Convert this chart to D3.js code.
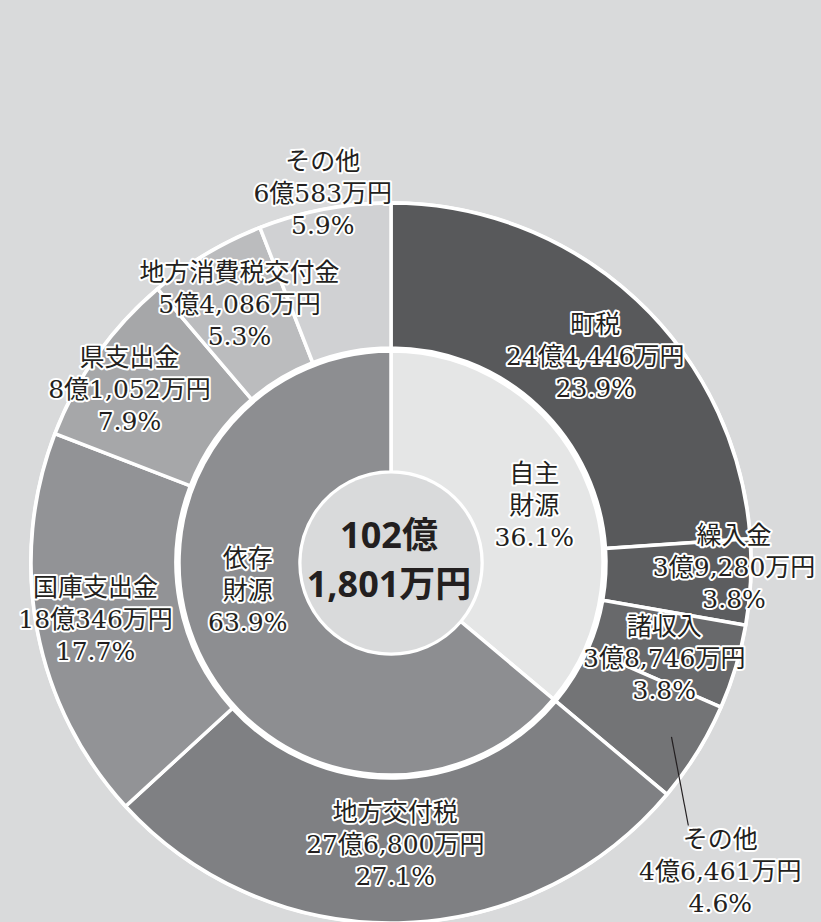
<!DOCTYPE html>
<html>
<head>
<meta charset="utf-8">
<script src="https://cdn.jsdelivr.net/npm/d3@7"></script>
<style>
  html, body { margin: 0; padding: 0; background: #d9dadb; }
  svg { display: block; }
  .lbl {
    font-family: "DejaVu Serif", "Noto Sans CJK JP", serif;
    font-size: 25px;
    fill: #231f20;
    stroke: #fff;
    stroke-width: 4px;
    stroke-linejoin: round;
    paint-order: stroke;
  }
  .total {
    font-family: "Noto Sans", "Noto Sans CJK JP", sans-serif;
    font-size: 36px;
    font-weight: bold;
    fill: #231f20;
  }
</style>
</head>
<body>
<svg width="821" height="922"></svg>
<script>
// 歳入 (万円) — outer ring, clockwise from 12 o'clock
const incomeNames = ['町税', '繰入金', '諸収入', 'その他',
    '地方交付税', '国庫支出金', '県支出金', '地方消費税交付金', 'その他'];
const incomeValues = [244446, 39280, 38746, 46461,
    276800, 180346, 81052, 54086, 60583];
const incomePercents = [23.9, 3.8, 3.8, 4.6, 27.1, 17.7, 7.9, 5.3, 5.9];
const incomeGroup = [0, 0, 0, 0, 1, 1, 1, 1, 1];

// inner ring
const groupNames = [['自主', '財源'], ['依存', '財源']];
const groupPercents = [36.1, 63.9];

const totalManYen = 1021801;

const outerColors = ['#58595b', '#5c5d5f', '#68696b', '#737476',
    '#7f8083', '#929396', '#a6a7a9', '#bbbcbe', '#d0d1d3'];
const innerColors = ['#e5e6e6', '#8d8e91'];

// label block offsets from the arc centroid
const outerNudge = [[8, 3], [56, -11], [-2, 12], [85, 157],
    [-2, -6], [-13, 2], [-27, -8], [-4, -12], [-15, -87]];
const innerNudge = [[6, 6], [-6, -37]];

const cx = 391, cy = 563;
const rOuter = 360, rOuterIn = 215, rInner = 212, rHole = 91;
const lineH = 32;

function yen(v) {
  const oku = Math.floor(v / 10000);
  const man = v % 10000;
  return oku + '億' + (man ? d3.format(',')(man) + '万' : '') + '円';
}

const groupValues = groupNames.map((g, gi) =>
    d3.sum(incomeValues.filter((v, i) => incomeGroup[i] === gi)));

const pie = d3.pie().sort(null).value(d => d);
const outerArcs = pie(incomeValues);
const innerArcs = pie(groupValues);

const outerArc = d3.arc().innerRadius(rOuterIn).outerRadius(rOuter);
const innerArc = d3.arc().innerRadius(rHole).outerRadius(rInner);

const svg = d3.select('svg');
const g = svg.append('g').attr('transform', `translate(${cx},${cy})`);

// white backing: outer edge and gap between the rings
g.append('circle')
    .attr('r', rOuter + 2)
    .style('fill', '#fff');

g.selectAll('path.outer')
    .data(outerArcs)
    .enter()
    .append('path')
    .attr('class', 'outer')
    .attr('d', outerArc)
    .style('fill', (d, i) => outerColors[i])
    .style('stroke', '#fff')
    .style('stroke-width', '3.5px');

g.selectAll('path.inner')
    .data(innerArcs)
    .enter()
    .append('path')
    .attr('class', 'inner')
    .attr('d', innerArc)
    .style('fill', (d, i) => innerColors[i])
    .style('stroke', '#fff')
    .style('stroke-width', '3.5px');

// hole shows the page background
g.append('circle')
    .attr('r', rHole - 1.5)
    .style('fill', '#d9dadb');

// leader line for the small その他 slice
const leadIdx = 3;
const leadA = (outerArcs[leadIdx].startAngle + outerArcs[leadIdx].endAngle) / 2;
const leadC = outerArc.centroid(outerArcs[leadIdx]);
g.append('line')
    .attr('x1', Math.sin(leadA) * 330)
    .attr('y1', -Math.cos(leadA) * 330)
    .attr('x2', leadC[0] + outerNudge[leadIdx][0] - 32)
    .attr('y2', leadC[1] + outerNudge[leadIdx][1] - 46)
    .style('stroke', '#231f20')
    .style('stroke-width', '1.2px');

function block(lines, x, y) {
  const t = g.append('text')
      .attr('class', 'lbl')
      .attr('text-anchor', 'middle');
  lines.forEach((s, k) => {
    t.append('tspan')
        .attr('x', x)
        .attr('y', y + (k - (lines.length - 1) / 2) * lineH)
        .attr('dy', '0.36em')
        .text(s);
  });
}

outerArcs.forEach((d, i) => {
  const c = outerArc.centroid(d);
  block([incomeNames[i], yen(incomeValues[i]), incomePercents[i].toFixed(1) + '%'],
      c[0] + outerNudge[i][0], c[1] + outerNudge[i][1]);
});

innerArcs.forEach((d, i) => {
  const c = innerArc.centroid(d);
  block([groupNames[i][0], groupNames[i][1], groupPercents[i].toFixed(1) + '%'],
      c[0] + innerNudge[i][0], c[1] + innerNudge[i][1]);
});

// total in the hole
const tot = g.append('text')
    .attr('class', 'total')
    .attr('text-anchor', 'middle');
tot.append('tspan')
    .attr('x', -2).attr('y', -15)
    .text(Math.floor(totalManYen / 10000) + '億');
tot.append('tspan')
    .attr('x', -2).attr('y', 34)
    .text(d3.format(',')(totalManYen % 10000) + '万円');
</script>
</body>
</html>
